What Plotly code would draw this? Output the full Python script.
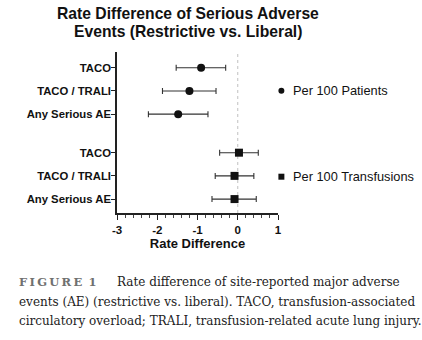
import plotly.graph_objects as go

# ---- data ----
outcomes = ["TACO", "TACO / TRALI", "Any Serious AE"]
pat_est = [-0.91, -1.20, -1.48]
pat_lo = [-1.53, -1.87, -2.22]
pat_hi = [-0.30, -0.54, -0.74]
tr_est = [0.03, -0.08, -0.08]
tr_lo = [-0.45, -0.56, -0.64]
tr_hi = [0.51, 0.40, 0.46]
groups = ["Per 100 Patients", "Per 100 Transfusions"]
x_ticks = [-3, -2, -1, 0, 1]

title_lines = ["Rate Difference of Serious Adverse", "Events (Restrictive vs. Liberal)"]
x_title = "Rate Difference"
caption_label = "F\u2009I\u2009G\u2009U\u2009R\u2009E\u2009 1"
caption_lines = [
    "Rate difference of site-reported major adverse",
    "events (AE) (restrictive vs. liberal). TACO, transfusion-associated",
    "circulatory overload; TRALI, transfusion-related acute lung injury.",
]

# ---- layout geometry ----
W, H = 422, 340
L, R, T, B = 116.7, 278.3, 52, 213
GAP = 1.66
n = len(outcomes)
tr_y = [n - 1 - i for i in range(n)]
pat_y = [y + n - 1 + GAP for y in tr_y]
y_range = [-0.6, max(pat_y) + 0.68]


def xp(px):
    return (px - L) / (R - L)


def yp(py):
    return (B - py) / (B - T)


SANS = "Liberation Sans, Arial, sans-serif"
SERIF = "DejaVu Serif, serif"
INK = "#111111"

fig = go.Figure()


def add_series(est, lo, hi, ys, symbol, name):
    fig.add_trace(go.Scatter(
        x=est, y=ys, mode="markers", name=name, showlegend=False,
        marker=dict(symbol=symbol, size=8, color=INK),
        error_x=dict(type="data", symmetric=False,
                     array=[h - e for h, e in zip(hi, est)],
                     arrayminus=[e - l for e, l in zip(est, lo)],
                     color="#333333", thickness=1.1, width=3),
        cliponaxis=False,
    ))


add_series(pat_est, pat_lo, pat_hi, pat_y, "circle", groups[0])
add_series(tr_est, tr_lo, tr_hi, tr_y, "square", groups[1])

shapes = [
    dict(type="line", xref="x", yref="paper", x0=0, x1=0, y0=0, y1=1,
         line=dict(color="#c0c0c0", width=1, dash="dot"), layer="below"),
    # legend symbols
    dict(type="circle", xref="paper", yref="paper",
         x0=xp(278.7), x1=xp(284.7), y0=yp(93.7), y1=yp(87.7),
         fillcolor=INK, line=dict(width=0)),
    dict(type="rect", xref="paper", yref="paper",
         x0=xp(278.7), x1=xp(284.7), y0=yp(179.7), y1=yp(173.7),
         fillcolor=INK, line=dict(width=0)),
]


def ann(text, px, py, font, anchor="left"):
    return dict(text=text, x=xp(px), y=yp(py), xref="paper", yref="paper",
                xanchor=anchor, yanchor="middle", showarrow=False, font=font)


legend_font = dict(family=SANS, size=12.8, color=INK)
title_font = dict(family=SANS, size=15.7, color=INK, weight="bold")
cap_font = dict(family=SERIF, size=12, color="#222222")

annotations = [
    ann(title_lines[0], 188, 13.5, title_font, "center"),
    ann(title_lines[1], 188, 32, title_font, "center"),
    ann(groups[0], 291.5, 90.7, legend_font),
    ann(groups[1], 291.5, 176.7, legend_font),
    ann(caption_label, 16.7, 281.5, dict(family=SERIF, size=11.5, color="#707070", weight="bold")),
    ann(caption_lines[0], 115, 281.5, cap_font),
    ann(caption_lines[1], 16.7, 301.5, cap_font),
    ann(caption_lines[2], 16.7, 320.5, cap_font),
]

fig.update_layout(
    width=W, height=H,
    margin=dict(l=L, r=W - R, t=T, b=H - B, pad=0),
    paper_bgcolor="white", plot_bgcolor="white",
    showlegend=False,
    xaxis=dict(range=[-3, 1], tickvals=x_ticks, ticktext=[str(v) for v in x_ticks],
               showgrid=False, zeroline=False, showline=True, linecolor="#222222",
               linewidth=1.5, ticks="outside", ticklen=5, tickwidth=1.2, tickcolor="#222222",
               tickfont=dict(family=SANS, size=11.5, color=INK, weight="bold"),
               minor=dict(dtick=0.2, ticks="outside", ticklen=3, tickcolor="#444444", tickwidth=1),
               title=dict(text=x_title, standoff=4,
                          font=dict(family=SANS, size=13, color=INK, weight="bold"))),
    yaxis=dict(range=y_range, tickvals=pat_y + tr_y, ticktext=outcomes + outcomes,
               showgrid=False, zeroline=False, showline=True, linecolor="#222222",
               linewidth=1.5, ticks="outside", ticklen=4, tickwidth=1, tickcolor="#222222",
               ticklabelstandoff=-2,
               tickfont=dict(family=SANS, size=11.3, color=INK, weight="bold")),
    shapes=shapes,
    annotations=annotations,
)

fig.write_html("out.html")
